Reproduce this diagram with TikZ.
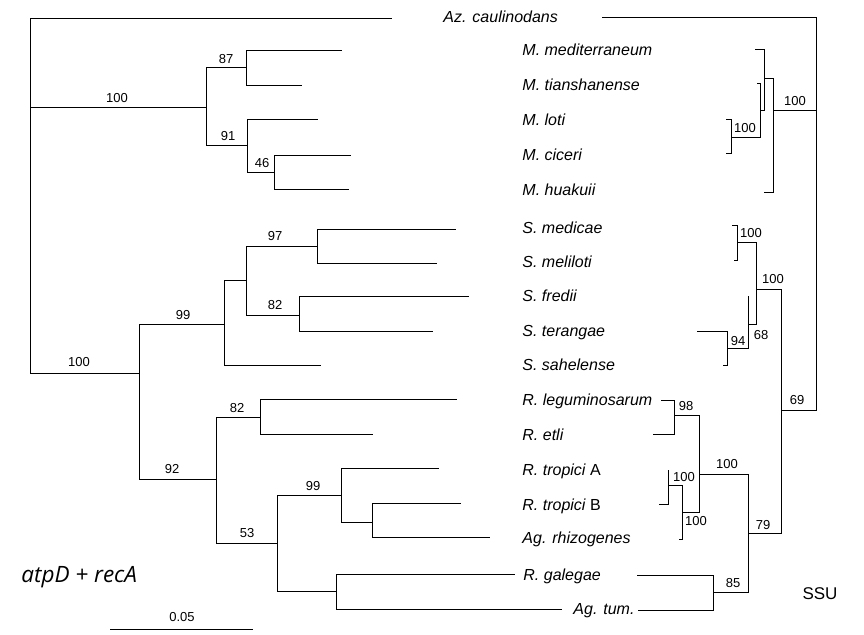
\documentclass[tikz,border=0pt]{standalone}
\usepackage{fontspec}
\setmainfont{Liberation Sans}
\newfontfamily\titlefont{Open Sans}
\begin{document}
\begin{tikzpicture}[x=1pt,y=-1pt,line width=0.85pt,
  branch/.style={draw,line join=miter},
  taxon/.style={anchor=base west,inner sep=0pt,font=\fontsize{16}{19}\selectfont\itshape},
  bs/.style={inner sep=0pt,font=\fontsize{13}{15}\selectfont}]
\useasboundingbox (0,0) rectangle (864,634);
% ---------------- taxon labels ----------------
\node[taxon] (tAz)  at (443,22.7) {Az. caulinodans};
\node[taxon] (tMme) at (522,55.7) {M. mediterraneum};
\node[taxon] (tMti) at (522,90.7) {M. tianshanense};
\node[taxon] (tMlo) at (522,125.7) {M. loti};
\node[taxon] (tMci) at (522,160.7) {M. ciceri};
\node[taxon] (tMhu) at (522,195.7) {M. huakuii};
\node[taxon] (tSme) at (522,233.7) {S. medicae};
\node[taxon] (tSml) at (522,267.7) {S. meliloti};
\node[taxon] (tSfr) at (522,301.7) {S. fredii};
\node[taxon] (tSte) at (522,336.7) {S. terangae};
\node[taxon] (tSsa) at (522,370.7) {S. sahelense};
\node[taxon] (tRle) at (522,405.7) {R. leguminosarum};
\node[taxon] (tRet) at (522,440.7) {R. etli};
\node[taxon] (tRtA) at (522,475.7) {R. tropici \upshape A};
\node[taxon] (tRtB) at (522,510.7) {R. tropici \upshape B};
\node[taxon] (tAgr) at (522,543.7) {Ag. rhizogenes};
\node[taxon] (tRga) at (523,580.7) {R. galegae};
\node[taxon] (tAgt) at (573,614.7) {Ag. tum.};
% ---------------- left tree (atpD + recA) ----------------
\coordinate (L0) at (30,107);
\coordinate (Laz) at (392,18);
\coordinate (LM) at (206,107);
\coordinate (L87) at (246,67);
\coordinate (Lmme) at (342,50);
\coordinate (Lmti) at (302,85);
\coordinate (L91) at (247,145);
\coordinate (Lmlo) at (318,119);
\coordinate (L46) at (274,172);
\coordinate (Lmci) at (351,155);
\coordinate (Lmhu) at (349,189);
\coordinate (L100b) at (139,373);
\coordinate (L99) at (224,324);
\coordinate (LSa) at (246,280);
\coordinate (L97) at (317,246);
\coordinate (Lsme) at (456,229);
\coordinate (Lsml) at (437,263);
\coordinate (L82s) at (299,315);
\coordinate (Lsfr) at (469,296);
\coordinate (Lste) at (433,331);
\coordinate (Lssa) at (321,365);
\coordinate (L92) at (216,479);
\coordinate (L82r) at (260,417);
\coordinate (Lrle) at (457,399);
\coordinate (Lret) at (373,434);
\coordinate (L53) at (277,543);
\coordinate (L99r) at (341,495);
\coordinate (LrtA) at (439,468);
\coordinate (LRb) at (372,522);
\coordinate (LrtB) at (461,503);
\coordinate (Lagr) at (490,537);
\coordinate (LRg) at (336,591);
\coordinate (Lrga) at (515,574);
\coordinate (Lagt) at (562,609);
\path[branch] (L0) |- (Laz) (L0) |- (LM) (L0) |- (L100b)
  (LM) |- (L87) (LM) |- (L91)
  (L87) |- (Lmme) (L87) |- (Lmti)
  (L91) |- (Lmlo) (L91) |- (L46)
  (L46) |- (Lmci) (L46) |- (Lmhu)
  (L100b) |- (L99) (L100b) |- (L92)
  (L99) |- (LSa) (L99) |- (Lssa)
  (LSa) |- (L97) (LSa) |- (L82s)
  (L97) |- (Lsme) (L97) |- (Lsml)
  (L82s) |- (Lsfr) (L82s) |- (Lste)
  (L92) |- (L82r) (L92) |- (L53)
  (L82r) |- (Lrle) (L82r) |- (Lret)
  (L53) |- (L99r) (L53) |- (LRg)
  (L99r) |- (LrtA) (L99r) |- (LRb)
  (LRb) |- (LrtB) (LRb) |- (Lagr)
  (LRg) |- (Lrga) (LRg) |- (Lagt);
\node[bs] (b1) at (117,98) {100};
\node[bs] (b2) at (226,59) {87};
\node[bs] (b3) at (228,136) {91};
\node[bs] (b4) at (262,163) {46};
\node[bs] (b5) at (79,362) {100};
\node[bs] (b6) at (183,315) {99};
\node[bs] (b7) at (275,236) {97};
\node[bs] (b8) at (275,305) {82};
\node[bs] (b9) at (172,469) {92};
\node[bs] (b10) at (237,408) {82};
\node[bs] (b11) at (247,533) {53};
\node[bs] (b12) at (313,486) {99};
% ---------------- right tree (SSU) ----------------
\coordinate (R0) at (816,110);
\coordinate (Raz) at (602,17);
\coordinate (RM) at (773,110);
\coordinate (RP1) at (764,78);
\coordinate (Rmme) at (755,49);
\coordinate (RP2) at (760,110);
\coordinate (Rmti) at (757,83);
\coordinate (RP3) at (731,137);
\coordinate (Rmlo) at (726,119);
\coordinate (Rmci) at (726,153);
\coordinate (Rmhu) at (764,192);
\coordinate (R69) at (781,410);
\coordinate (RS100) at (756,289);
\coordinate (RSmm) at (737,242);
\coordinate (Rsme) at (732,225);
\coordinate (Rsml) at (734,260);
\coordinate (R68) at (748,324);
\coordinate (Rsfr) at (748,296);
\coordinate (R94) at (727,348);
\coordinate (Rste) at (697,331);
\coordinate (Rssa) at (723,365);
\coordinate (R79) at (748,533);
\coordinate (R100r) at (699,474);
\coordinate (R98) at (674,415);
\coordinate (Rrle) at (661,400);
\coordinate (Rret) at (653,434);
\coordinate (RRb) at (682,512);
\coordinate (RRt) at (668,485);
\coordinate (RrtA) at (668,470);
\coordinate (RrtB) at (659,504);
\coordinate (Ragr) at (679,539);
\coordinate (R85) at (713,592);
\coordinate (Rrga) at (637,575);
\coordinate (Ragt) at (638,610);
\path[branch] (R0) |- (Raz) (R0) |- (RM) (R0) |- (R69)
  (RM) |- (RP1) (RM) |- (Rmhu)
  (RP1) |- (Rmme) (RP1) |- (RP2)
  (RP2) |- (Rmti) (RP2) |- (RP3)
  (RP3) |- (Rmlo) (RP3) |- (Rmci)
  (R69) |- (RS100) (R69) |- (R79)
  (RS100) |- (RSmm) (RS100) |- (R68)
  (RSmm) |- (Rsme) (RSmm) |- (Rsml)
  (R68) |- (Rsfr) (R68) |- (R94)
  (R94) |- (Rste) (R94) |- (Rssa)
  (R79) |- (R100r) (R79) |- (R85)
  (R100r) |- (R98) (R100r) |- (RRb)
  (R98) |- (Rrle) (R98) |- (Rret)
  (RRb) |- (RRt) (RRb) |- (Ragr)
  (RRt) |- (RrtA) (RRt) |- (RrtB)
  (R85) |- (Rrga) (R85) |- (Ragt);
\node[bs] (c1) at (795,101) {100};
\node[bs] (c2) at (745,128) {100};
\node[bs] (c3) at (751,233) {100};
\node[bs] (c4) at (773,279) {100};
\node[bs] (c5) at (761,335) {68};
\node[bs] (c6) at (738,341) {94};
\node[bs] (c7) at (797,400) {69};
\node[bs] (c8) at (686,406) {98};
\node[bs] (c9) at (727,464) {100};
\node[bs] (c10) at (684,477) {100};
\node[bs] (c11) at (696,521) {100};
\node[bs] (c12) at (763,525) {79};
\node[bs] (c13) at (733,583) {85};
% ---------------- titles and scale ----------------
\node[anchor=base west,inner sep=0pt,font=\fontsize{22.5}{26}\selectfont\titlefont\itshape] (title) at (21,582) {atpD + recA};
\node[inner sep=0pt,font=\fontsize{17}{20}\selectfont] (ssu) at (820,594) {SSU};
\coordinate (sc1) at (110,629);
\coordinate (sc2) at (253,629);
\draw (sc1) -- (sc2);
\node[bs] (scl) at (182,617) {0.05};
\end{tikzpicture}
\end{document}
